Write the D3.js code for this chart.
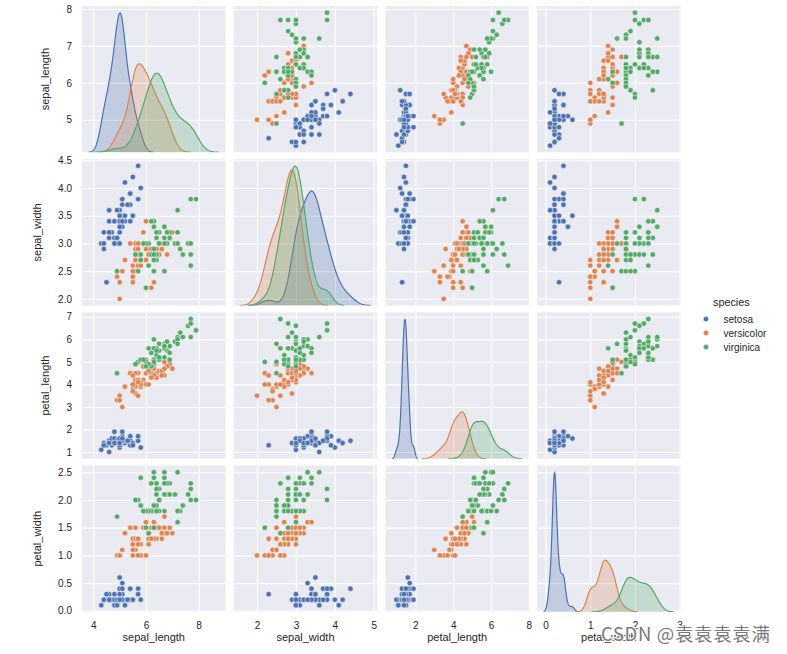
<!DOCTYPE html>
<html><head><meta charset="utf-8">
<script src="https://cdn.jsdelivr.net/npm/d3@7"></script>
<style>body{margin:0;background:#fff}svg{display:block}</style>
</head><body>
<svg id="c" width="787" height="654"></svg>
<script>
const variables = ["sepal_length","sepal_width","petal_length","petal_width"];
const speciesNames = ["setosa","versicolor","virginica"];
const speciesCounts = [50,50,50];
const colors = ["#4C72B0","#DD8452","#55A868"];
const sepalLength = [
5.1,4.9,4.7,4.6,5.0,5.4,4.6,5.0,4.4,4.9,5.4,4.8,4.8,4.3,5.8,5.7,5.4,5.1,5.7,5.1,5.4,5.1,4.6,5.1,4.8,5.0,5.0,5.2,5.2,4.7,4.8,5.4,5.2,5.5,4.9,5.0,5.5,4.9,4.4,5.1,5.0,4.5,4.4,5.0,5.1,4.8,5.1,4.6,5.3,5.0,
7.0,6.4,6.9,5.5,6.5,5.7,6.3,4.9,6.6,5.2,5.0,5.9,6.0,6.1,5.6,6.7,5.6,5.8,6.2,5.6,5.9,6.1,6.3,6.1,6.4,6.6,6.8,6.7,6.0,5.7,5.5,5.5,5.8,6.0,5.4,6.0,6.7,6.3,5.6,5.5,5.5,6.1,5.8,5.0,5.6,5.7,5.7,6.2,5.1,5.7,
6.3,5.8,7.1,6.3,6.5,7.6,4.9,7.3,6.7,7.2,6.5,6.4,6.8,5.7,5.8,6.4,6.5,7.7,7.7,6.0,6.9,5.6,7.7,6.3,6.7,7.2,6.2,6.1,6.4,7.2,7.4,7.9,6.4,6.3,6.1,7.7,6.3,6.4,6.0,6.9,6.7,6.9,5.8,6.8,6.7,6.7,6.3,6.5,6.2,5.9];
const sepalWidth = [
3.5,3.0,3.2,3.1,3.6,3.9,3.4,3.4,2.9,3.1,3.7,3.4,3.0,3.0,4.0,4.4,3.9,3.5,3.8,3.8,3.4,3.7,3.6,3.3,3.4,3.0,3.4,3.5,3.4,3.2,3.1,3.4,4.1,4.2,3.1,3.2,3.5,3.6,3.0,3.4,3.5,2.3,3.2,3.5,3.8,3.0,3.8,3.2,3.7,3.3,
3.2,3.2,3.1,2.3,2.8,2.8,3.3,2.4,2.9,2.7,2.0,3.0,2.2,2.9,2.9,3.1,3.0,2.7,2.2,2.5,3.2,2.8,2.5,2.8,2.9,3.0,2.8,3.0,2.9,2.6,2.4,2.4,2.7,2.7,3.0,3.4,3.1,2.3,3.0,2.5,2.6,3.0,2.6,2.3,2.7,3.0,2.9,2.9,2.5,2.8,
3.3,2.7,3.0,2.9,3.0,3.0,2.5,2.9,2.5,3.6,3.2,2.7,3.0,2.5,2.8,3.2,3.0,3.8,2.6,2.2,3.2,2.8,2.8,2.7,3.3,3.2,2.8,3.0,2.8,3.0,2.8,3.8,2.8,2.8,2.6,3.0,3.4,3.1,3.0,3.1,3.1,3.1,2.7,3.2,3.3,3.0,2.5,3.0,3.4,3.0];
const petalLength = [
1.4,1.4,1.3,1.5,1.4,1.7,1.4,1.5,1.4,1.5,1.5,1.6,1.4,1.1,1.2,1.5,1.3,1.4,1.7,1.5,1.7,1.5,1.0,1.7,1.9,1.6,1.6,1.5,1.4,1.6,1.6,1.5,1.5,1.4,1.5,1.2,1.3,1.4,1.3,1.5,1.3,1.3,1.3,1.6,1.9,1.4,1.6,1.4,1.5,1.4,
4.7,4.5,4.9,4.0,4.6,4.5,4.7,3.3,4.6,3.9,3.5,4.2,4.0,4.7,3.6,4.4,4.5,4.1,4.5,3.9,4.8,4.0,4.9,4.7,4.3,4.4,4.8,5.0,4.5,3.5,3.8,3.7,3.9,5.1,4.5,4.5,4.7,4.4,4.1,4.0,4.4,4.6,4.0,3.3,4.2,4.2,4.2,4.3,3.0,4.1,
6.0,5.1,5.9,5.6,5.8,6.6,4.5,6.3,5.8,6.1,5.1,5.3,5.5,5.0,5.1,5.3,5.5,6.7,6.9,5.0,5.7,4.9,6.7,4.9,5.7,6.0,4.8,4.9,5.6,5.8,6.1,6.4,5.6,5.1,5.6,6.1,5.6,5.5,4.8,5.4,5.6,5.1,5.1,5.9,5.7,5.2,5.0,5.2,5.4,5.1];
const petalWidth = [
0.2,0.2,0.2,0.2,0.2,0.4,0.3,0.2,0.2,0.1,0.2,0.2,0.1,0.1,0.2,0.4,0.4,0.3,0.3,0.3,0.2,0.4,0.2,0.5,0.2,0.2,0.4,0.2,0.2,0.2,0.2,0.4,0.1,0.2,0.2,0.2,0.2,0.1,0.2,0.2,0.3,0.3,0.2,0.6,0.4,0.3,0.2,0.2,0.2,0.2,
1.4,1.5,1.5,1.3,1.5,1.3,1.6,1.0,1.3,1.4,1.0,1.5,1.0,1.4,1.3,1.4,1.5,1.0,1.5,1.1,1.8,1.3,1.5,1.2,1.3,1.4,1.4,1.7,1.5,1.0,1.1,1.0,1.2,1.6,1.5,1.6,1.5,1.3,1.3,1.3,1.2,1.4,1.2,1.0,1.3,1.2,1.3,1.3,1.1,1.3,
2.5,1.9,2.1,1.8,2.2,2.1,1.7,1.8,1.8,2.5,2.0,1.9,2.1,2.0,2.4,2.3,1.8,2.2,2.3,1.5,2.3,2.0,2.0,1.8,2.1,1.8,1.8,1.8,2.1,1.6,1.9,2.0,2.2,1.5,1.4,2.3,2.4,1.8,1.8,2.1,2.4,2.3,1.9,2.3,2.5,2.3,1.9,2.0,2.3,1.8];
const colTicks = [[4,6,8],[2,3,4,5],[2,4,6,8],[0,1,2,3]];
const rowTicks = [[5,6,7,8],[2.0,2.5,3.0,3.5,4.0,4.5],[1,2,3,4,5,6,7],[0,0.5,1.0,1.5,2.0,2.5]];
const rowTickFormats = ["d",".1f","d",".1f"];

// ---- build records ----
const columns = [sepalLength, sepalWidth, petalLength, petalWidth];
const speciesIdx = [];
speciesCounts.forEach((c,k)=>{ for(let i=0;i<c;i++) speciesIdx.push(k); });
const N = speciesIdx.length;

function sd(a){const m=d3.mean(a);return Math.sqrt(d3.sum(a,v=>(v-m)*(v-m))/(a.length-1));}
function kde(vals, weight){
  const n=vals.length, bw=sd(vals)*Math.pow(n,-0.2);
  const lo=d3.min(vals)-3*bw, hi=d3.max(vals)+3*bw, G=200, pts=[];
  for(let g=0;g<G;g++){
    const x=lo+(hi-lo)*g/(G-1);
    let s=0; for(const v of vals){const z=(x-v)/bw; s+=Math.exp(-0.5*z*z);}
    pts.push([x, weight*s/(n*bw*Math.sqrt(2*Math.PI))]);
  }
  return {lo,hi,pts};
}
const kdes = columns.map(col => speciesNames.map((s,k)=>{
  const vals = col.filter((v,i)=>speciesIdx[i]===k);
  return kde(vals, vals.length/N);
}));

const left0=82, colStep=151.7, pw=143.5, top0=6, rowStep=153.2, ph=146.3;
const xScales = columns.map((col,j)=>{
  let lo=d3.min(kdes[j],d=>d.lo), hi=d3.max(kdes[j],d=>d.hi);
  lo=Math.min(lo,d3.min(col)); hi=Math.max(hi,d3.max(col));
  const p=(hi-lo)*0.05;
  return d3.scaleLinear().domain([lo-p,hi+p]).range([0,pw]);
});
const yScales = columns.map(col=>{
  const [lo,hi]=d3.extent(col); const p=(hi-lo)*0.05;
  return d3.scaleLinear().domain([lo-p,hi+p]).range([ph,0]);
});

const svg = d3.select("#c");
const font = "'Liberation Sans', Arial, sans-serif";
const txt = "#262626";
const defs = svg.append("defs");
defs.append("clipPath").attr("id","pclip").append("rect").attr("width",pw).attr("height",ph);

for(let i=0;i<4;i++){
  for(let j=0;j<4;j++){
    const g = svg.append("g").attr("transform",`translate(${left0+j*colStep},${top0+i*rowStep})`);
    g.append("rect").attr("width",pw).attr("height",ph).attr("fill","#EAEAF2");
    const x=xScales[j], y=yScales[i];
    const grid = g.append("g").attr("clip-path","url(#pclip)");
    grid.append("g").call(d3.axisBottom(x).tickValues(colTicks[j]).tickSize(ph).tickFormat(""))
      .call(a=>{a.select(".domain").remove(); a.selectAll("line").attr("stroke","#fff").attr("stroke-width",1.1);});
    grid.append("g").call(d3.axisLeft(y).tickValues(rowTicks[i]).tickSize(-pw).tickFormat(""))
      .call(a=>{a.select(".domain").remove(); a.selectAll("line").attr("stroke","#fff").attr("stroke-width",1.1);});
    const plot = g.append("g").attr("clip-path","url(#pclip)");
    if(i===j){
      const maxD = d3.max(kdes[j], d=>d3.max(d.pts,p=>p[1]));
      const yd = d3.scaleLinear().domain([0,maxD*1.05]).range([ph,0]);
      kdes[j].forEach((d,k)=>{
        plot.append("path").datum(d.pts)
          .attr("d", d3.area().x(p=>x(p[0])).y0(yd(0)).y1(p=>yd(p[1])))
          .attr("fill",colors[k]).attr("fill-opacity",0.25).attr("stroke","none");
        plot.append("path").datum(d.pts)
          .attr("d", d3.line().x(p=>x(p[0])).y(p=>yd(p[1])))
          .attr("fill","none").attr("stroke",colors[k]).attr("stroke-width",1.2);
      });
    } else {
      const cx=columns[j], cy=columns[i];
      plot.selectAll("circle").data(d3.range(N)).join("circle")
        .attr("cx",k=>x(cx[k])).attr("cy",k=>y(cy[k])).attr("r",2.7)
        .attr("fill",k=>colors[speciesIdx[k]]).attr("stroke","#fff").attr("stroke-width",0.5);
    }
    if(j===0){
      const ax = g.append("g").call(d3.axisLeft(y).tickValues(rowTicks[i]).tickSize(0).tickPadding(10).tickFormat(d3.format(rowTickFormats[i])))
        .call(a=>{a.select(".domain").remove(); a.selectAll("text").attr("fill",txt).style("font-family",font).style("font-size","10px");});
      let minX = 0;
      ax.selectAll("text").each(function(){ const b=this.getBBox(); minX=Math.min(minX,b.x); });
      const bx = minX - 10 - 7;
      g.append("text").attr("transform",`translate(${bx},${ph/2}) rotate(-90)`).attr("text-anchor","middle")
        .attr("fill",txt).style("font-family",font).style("font-size","11px").text(variables[i]);
    }
    if(i===3){
      g.append("g").attr("transform",`translate(0,${ph})`)
        .call(d3.axisBottom(x).tickValues(colTicks[j]).tickSize(0).tickPadding(10).tickFormat(d3.format("d")))
        .call(a=>{a.select(".domain").remove(); a.selectAll("text").attr("fill",txt).style("font-family",font).style("font-size","10px");});
      g.append("text").attr("x",pw/2).attr("y",ph+29.5).attr("text-anchor","middle")
        .attr("fill",txt).style("font-family",font).style("font-size","11px").text(variables[j]);
    }
  }
}

// legend
const lg = svg.append("g");
lg.append("text").attr("x",713).attr("y",305.5).attr("fill",txt).style("font-family",font).style("font-size","10.8px").text("species");
speciesNames.forEach((s,k)=>{
  const cy = 319 + k*14;
  lg.append("circle").attr("cx",706).attr("cy",cy).attr("r",2.7).attr("fill",colors[k]).attr("stroke","#fff").attr("stroke-width",0.5);
  lg.append("text").attr("x",723.5).attr("y",cy).attr("dy","0.35em").attr("fill",txt).style("font-family",font).style("font-size","10px").text(s);
});

// watermark
svg.append("text").attr("x",601).attr("y",641).attr("textLength",169).attr("lengthAdjust","spacing")
  .attr("fill","#7a7a7a").attr("stroke","#fff").attr("stroke-width",2).attr("paint-order","stroke")
  .style("font-family","'Noto Sans CJK SC', 'Liberation Sans', sans-serif").style("font-size","18.5px")
  .text("CSDN @袁袁袁袁满");
</script>
</body></html>
